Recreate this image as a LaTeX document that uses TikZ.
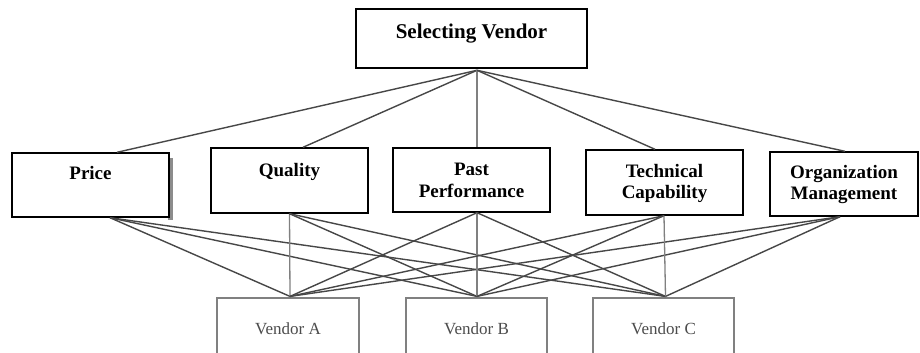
\documentclass[tikz,border=0pt]{standalone}
\usepackage{fontspec}
\setmainfont{Liberation Serif}
\begin{document}
\begin{tikzpicture}[x=1pt,y=-1pt,
  cbox/.style={draw=black,line width=1.4pt,fill=white,inner sep=0pt,rectangle},
  vbox/.style={draw=black!50,line width=1.2pt,fill=white,inner sep=0pt,rectangle},
  lbl/.style={anchor=base,inner sep=0pt,font=\fontsize{19}{21}\selectfont\bfseries},
  vlbl/.style={anchor=base,inner sep=0pt,text=black!70,font=\fontsize{17}{20}\selectfont},
  link/.style={draw=black!72,line width=1.4pt},
  vlink/.style={draw=black!50,line width=1.3pt}]
\clip (0,0) rectangle (920,353);
\fill[white] (0,0) rectangle (920,353);
% shadow of Price box (right side)
\fill[black!45] (168,158) rectangle (172.5,220);
% boxes
\node[cbox,line width=1.6pt,minimum width=231pt,minimum height=59pt] (top) at (471.5,38.5) {};
\node[cbox,minimum width=157pt,minimum height=64pt] (price) at (90.5,185) {};
\node[cbox,minimum width=157pt,minimum height=65pt] (quality) at (289.5,180.5) {};
\node[cbox,minimum width=157pt,minimum height=64pt] (past) at (471.5,180) {};
\node[cbox,minimum width=157pt,minimum height=65pt] (tech) at (664.5,182.5) {};
\node[cbox,minimum width=148pt,minimum height=64pt] (org) at (844,184) {};
\node[vbox,minimum width=142pt,minimum height=70pt] (va) at (288,333) {};
\node[vbox,minimum width=141pt,minimum height=70pt] (vb) at (476.5,333) {};
\node[vbox,minimum width=141pt,minimum height=70pt] (vc) at (663.5,333) {};
% labels
\node[lbl,font=\fontsize{21}{24}\selectfont\bfseries] (topt) at (471.5,38) {Selecting Vendor};
\node[lbl] (pricet) at (90.5,179) {Price};
\node[lbl] (qualityt) at (289.5,176) {Quality};
\node[lbl] (pastt1) at (471.5,175) {Past};
\node[lbl] (pastt2) at (471.5,197) {Performance};
\node[lbl] (techt1) at (664.5,177) {Technical};
\node[lbl] (techt2) at (664.5,198) {Capability};
\node[lbl] (orgt1) at (844,178) {Organization};
\node[lbl] (orgt2) at (844,199) {Management};
\node[vlbl] (vat) at (288,334) {Vendor A};
\node[vlbl] (vbt) at (476.5,334) {Vendor B};
\node[vlbl] (vct) at (663.5,334) {Vendor C};
% apex connectors
\coordinate (apex) at ([xshift=5.5pt,yshift=-1.5pt]top.south);
\draw[link] (apex) -- ([xshift=26.5pt]price.north);
\draw[link] (apex) -- ([xshift=13.5pt]quality.north);
\draw[vlink] (apex) -- ([xshift=5.5pt]past.north);
\draw[link] (apex) -- ([xshift=-9.5pt]tech.north);
\draw[link] (apex) -- ([xshift=1pt]org.north);
% criteria to vendors
\coordinate (pb) at ([xshift=19.5pt]price.south);
\coordinate (qb) at (quality.south);
\coordinate (ppb) at ([xshift=5.5pt]past.south);
\coordinate (tb) at ([xshift=-0.5pt]tech.south);
\coordinate (ob) at ([xshift=-4pt]org.south);
\coordinate (at) at ([xshift=2pt,yshift=1pt]va.north);
\coordinate (bt) at ([xshift=0.5pt,yshift=1pt]vb.north);
\coordinate (ct) at ([xshift=2pt,yshift=1pt]vc.north);
\foreach \s in {pb,ob}{
  \foreach \t in {at,bt,ct}{\draw[link] (\s) -- (\t);}}
\draw[vlink] (qb) -- (at);
\draw[link] (qb) -- (bt);
\draw[link] (qb) -- (ct);
\draw[link] (ppb) -- (at);
\draw[vlink] (ppb) -- (bt);
\draw[link] (ppb) -- (ct);
\draw[link] (tb) -- (at);
\draw[link] (tb) -- (bt);
\draw[vlink] (tb) -- (ct);
\end{tikzpicture}
\end{document}
